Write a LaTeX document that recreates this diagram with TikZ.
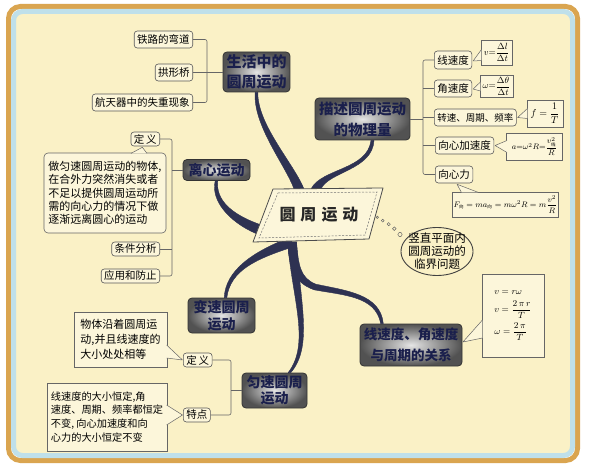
\documentclass[tikz,border=0pt]{standalone}
\usepackage{amsmath}
\usepackage{fontspec}
\newfontfamily\cjk{Noto Sans CJK SC}
\usetikzlibrary{shapes.geometric,calc}
\definecolor{bgc}{HTML}{FAF1C6}
\definecolor{boxc}{HTML}{FCF6DA}
\definecolor{frameo}{HTML}{DAA550}
\definecolor{frameb}{HTML}{BFE0EA}
\definecolor{brc}{HTML}{2E3252}
\definecolor{navy}{HTML}{1A1F4C}
\definecolor{elc}{HTML}{404040}
\newcommand\mycallout[3]{\fill[boxc] #1 -- #2 -- #3 -- cycle; \draw[tailline] #1 -- #2 -- #3;}
\newcommand\cjksub[1]{\hbox{\cjk\fontsize{4.5}{5}\selectfont #1}}
\newcommand\mf[2]{\cjk\bfseries\fontsize{#1}{#2}\selectfont}
\begin{document}
\begin{tikzpicture}[x=1pt,y=-1pt,
  smallbox/.style={draw=black!65, line width=0.6pt, fill=boxc, rounded corners=3pt, inner xsep=3pt, inner ysep=0pt, minimum height=17pt, font=\cjk\fontsize{10.5}{12}\selectfont},
  mainbox/.style={draw=black!80, line width=0.8pt, rounded corners=4pt, inner color=black!10, outer color=black!68, text=navy, align=center, inner sep=1pt},
  fbox/.style={draw=black!60, line width=0.5pt, fill=boxc, inner sep=1pt, font=\fontsize{9}{11}\selectfont},
  txtbox/.style={draw=black!60, line width=0.6pt, fill=boxc, align=left, inner sep=3pt, font=\cjk\fontsize{11}{13.3}\selectfont},
  tailline/.style={draw=black!60, line width=0.5pt, line join=round},
  bracket/.style={draw=black!60, line width=0.6pt, rounded corners=2pt},
  branch/.style={fill=brc, draw=brc, line width=0.4pt, line join=round}
]
\useasboundingbox (0,0) rectangle (589,473);
\fill[white] (0,0) rectangle (589,473);
% frame
\draw[frameo, line width=5pt, rounded corners=12pt] (8.5,6.5) rectangle (577.5,460.5);
\draw[frameb, line width=5pt, fill=bgc, rounded corners=9pt] (13.5,11.5) rectangle (572.5,455.5);

% main topic boxes
\node[mainbox, minimum width=67pt, minimum height=40pt, font={\mf{15}{19.5}}] (life) at (256.5,72) {生活中的\\圆周运动};
\node[mainbox, minimum width=95pt, minimum height=42pt, font={\mf{14.5}{21}}] (desc) at (362.5,119) {描述圆周运动\\的物理量};
\node[mainbox, minimum width=67pt, minimum height=21pt, font={\mf{14}{16}}] (centri) at (216.5,170) {离心运动};
\node[mainbox, minimum width=67pt, minimum height=35pt, font={\mf{14}{16.5}}] (var) at (221.5,315.5) {变速圆周\\运动};
\node[mainbox, minimum width=65pt, minimum height=35pt, font={\mf{14}{16.5}}] (uni) at (274.5,390.5) {匀速圆周\\运动};
\node[mainbox, minimum width=102pt, minimum height=42pt, font={\mf{13.5}{21}}] (rel) at (411,345) {线速度、角速度\\与周期的关系};

% small boxes
\node[smallbox, anchor=east] (rail) at (193,39.5) {铁路的弯道};
\node[smallbox, anchor=east] (bridge) at (193,72.5) {拱形桥};
\node[smallbox, anchor=east] (space) at (193,102.5) {航天器中的失重现象};
\node[smallbox, anchor=west, minimum height=18pt] (lin) at (434,60) {线速度};
\node[smallbox, anchor=west] (ang) at (434,88.5) {角速度};
\node[smallbox, anchor=west, font=\cjk\fontsize{9.5}{11}\selectfont] (rot) at (434,117.5) {转速、周期、频率};
\node[smallbox, anchor=west] (acc) at (435,145.5) {向心加速度};
\node[smallbox, anchor=west] (force) at (435,174.5) {向心力};
\node[smallbox, anchor=east, minimum height=14pt] (def1) at (160,139) {定\,义};
\node[smallbox, anchor=east, minimum height=14pt] (cond) at (160,249) {条件分析};
\node[smallbox, anchor=east, minimum height=14pt] (app) at (160,276) {应用和防止};
\node[smallbox, anchor=west, minimum height=14pt] (def2) at (183,360) {定\,义};
\node[smallbox, anchor=west, minimum height=14pt] (feat) at (183,415) {特点};

% formula boxes
\node[fbox, minimum width=31pt, minimum height=25pt, font=\fontsize{9.5}{11}\selectfont] (fv) at (496.5,52.5) {$v{=}\dfrac{\Delta l}{\Delta t}$};
\node[fbox, minimum width=33pt, minimum height=22pt, font=\fontsize{9.5}{11}\selectfont] (fw) at (496.5,86) {$\omega{=}\dfrac{\Delta\theta}{\Delta t}$};
\node[fbox, minimum width=36pt, minimum height=27pt, font=\fontsize{10}{12}\selectfont] (ff) at (545,113.5) {$f=\dfrac{1}{T}$};
\node[fbox, minimum width=56pt, minimum height=27pt, font=\fontsize{8.5}{10}\selectfont] (fa) at (534.5,146.5) {$a{=}\omega^2R{=}\dfrac{v^{2}_{\cjksub{线}}}{R}$};
\node[fbox, minimum width=103pt, minimum height=25pt, font=\fontsize{8.5}{10}\selectfont] (fF) at (505.5,204.5) {$F_{\cjksub{向}}=ma_{\cjksub{向}}=m\omega^2R=m\dfrac{v^2}{R}$};
\node[fbox, minimum width=62pt, minimum height=83pt, align=left, font=\fontsize{9.5}{11}\selectfont] (frel) at (513,315.5) {$v=r\omega$\\[5pt]$v=\dfrac{2\,\pi\, r}{T}$\\[3pt]$\omega=\dfrac{2\,\pi}{T}$};

% text boxes
\node[txtbox, rounded corners=4pt, minimum width=122pt, minimum height=80pt] (d1txt) at (105,193) {做匀速圆周运动的物体,\\在合外力突然消失或者\\不足以提供圆周运动所\\需的向心力的情况下做\\逐渐远离圆心的运动};
\node[txtbox, minimum width=93pt, minimum height=55pt, font=\cjk\fontsize{11}{15}\selectfont] (d2txt) at (120.5,339.5) {物体沿着圆周运\\动,并且线速度的\\大小处处相等};
\node[txtbox, minimum width=120pt, minimum height=68pt, font=\cjk\fontsize{10.2}{13.8}\selectfont] (ftxt) at (107,417) {线速度的大小恒定,角\\速度、周期、频率都恒定\\不变, 向心加速度和向\\心力的大小恒定不变};

% branch start points on the central shape
\coordinate (s1) at (299,189);
\coordinate (s2) at (316,189);
\coordinate (s3) at (257,229);
\coordinate (s4) at (292,242);

% tapered branches
\fill[branch] ($(s1)+(-5,0)$) .. controls (286.2,166.4) and (252.5,125) .. ($(life.south)+(-1.3,0)$) -- ($(life.south)+(1.3,0)$) .. controls (257.5,125) and (293.8,163.6) .. ($(s1)+(5,0)$) -- cycle;
\fill[branch] ($(s2)+(-5,0)$) .. controls (321.4,168.3) and (367.5,170) .. ($(desc.south)+(8.5,0)$) -- ($(desc.south)+(11.5,0)$) .. controls (372.5,170) and (328.6,171.7) .. ($(s2)+(5,0)$) -- cycle;
\fill[branch] ($(s3)+(2.6,-4.6)$) .. controls (231.5,214.3) and (215.5,200) .. ($(centri.south)+(1.3,0)$) -- ($(centri.south)+(-1.3,0)$) .. controls (210.5,200) and (228.5,221.7) .. ($(s3)+(-0.8,4.6)$) -- cycle;
\fill[branch] ($(s4)+(1.6,4.7)$) .. controls (256.3,258.8) and (230.5,270) .. ($(var.north)+(5.3,0)$) -- ($(var.north)+(2.7,0)$) .. controls (225.5,270) and (253.7,251.2) .. ($(s4)+(-1.6,-4.7)$) -- cycle;
\fill[branch] ($(s4)+(4.5,0)$) .. controls (299.5,300) and (313.6,346.3) .. ($(uni.north)+(16.3,0)$) -- ($(uni.north)+(13.7,0)$) .. controls (310.4,343.7) and (292.5,300) .. ($(s4)+(-4.5,0)$) -- cycle;
\fill[branch] ($(s4)+(4.5,0)$) .. controls (298.5,265) and (300,278) .. (315.9,284.2) .. controls (345.5,290.5) and (380.5,294) .. ($(rel.north)+(-27.7,0)$) -- ($(rel.north)+(-30.3,0)$) .. controls (375.5,296) and (344.5,295.5) .. (314.1,289.8) .. controls (292,282) and (289.5,265) .. ($(s4)+(-4.5,0)$) -- cycle;

% central shape
\fill[boxc] (273,189) -- (383,188) -- (369,239) -- (253,242) -- cycle;
\draw[black!70, line width=0.8pt, line join=round] (273,189) -- (383,188) -- (369,239) -- (253,242) -- cycle;
\draw[black!55, line width=0.5pt, dash pattern=on 2pt off 1.5pt] (278,193) -- (377,192) -- (365,235) -- (259,238) -- cycle;
\node[font=\cjk\bfseries\fontsize{16}{16}\selectfont, text=black!85] (core) at (319,215) {圆\hspace{5pt}周\hspace{5pt}运\hspace{5pt}动};

% chain of small circles to the ellipse
\foreach \cx/\cy/\r in {377.3/217.3/1.2, 382.7/220.7/1.4, 388.7/224.2/1.6, 394.3/228.7/1.8, 400/234.5/2.1}
  \draw[black!60, line width=0.5pt] (\cx,\cy) circle (\r);

% ellipse topic: outline as a polyline (straight segments), then the text
\draw[elc, line width=0.9pt, line join=round] plot[domain=0:360, samples=73, variable=\t] ({437+36*cos(\t)},{251.5+24*sin(\t)}) -- cycle;
\node[align=center, inner sep=0pt, font=\cjk\fontsize{11.5}{13}\selectfont] (crit) at (437,251.5) {竖直平面内\\圆周运动的\\临界问题};

% brackets
\coordinate (b1) at (207,72.5);
\draw[bracket] (rail.east) -| (b1) |- (space.east);
\draw[bracket] (bridge.east) -- (bridge.east -| life.west);
\coordinate (b2) at (423,119);
\draw[bracket] (lin.west) -| (b2) |- (force.west);
\draw[bracket] (ang.west) -- (ang.west -| b2);
\draw[bracket] (rot.west) -- (rot.west -| b2);
\draw[bracket] (acc.west) -- (acc.west -| b2);
\draw[bracket] (desc.east) -- (b2);
\coordinate (b3) at (172,170);
\draw[bracket] (def1.east) -| (b3) |- (app.east);
\draw[bracket] (cond.east) -- (cond.east -| b3);
\draw[bracket] (b3) -- (centri.west);
\coordinate (b4) at (231,390.5);
\draw[bracket] (def2.east) -| (b4) |- (feat.east);
\draw[bracket] (b4) -- (uni.west);

% callout tails
\mycallout{($(fv.west)+(0.7,-3)$)}{($(lin.east)+(1,1)$)}{($(fv.west)+(0.7,8)$)}
\mycallout{($(fw.west)+(0.7,-4)$)}{($(ang.east)+(1,0.5)$)}{($(fw.west)+(0.7,5)$)}
\mycallout{($(ff.west)+(0.7,-5)$)}{($(rot.east)+(1,0)$)}{($(ff.west)+(0.7,5)$)}
\mycallout{($(fa.west)+(0.7,-6)$)}{($(acc.east)+(1,0)$)}{($(fa.west)+(0.7,6)$)}
\mycallout{($(fF.north west)+(9,0.7)$)}{($(force.south)+(3,1)$)}{($(fF.north west)+(26,0.7)$)}
\mycallout{($(frel.west)+(0.7,4.5)$)}{($(rel.east)+(0.5,-3)$)}{($(frel.west)+(0.7,22.5)$)}
\mycallout{($(d1txt.north)+(26,0.7)$)}{($(def1.south)+(-3,1)$)}{($(d1txt.north)+(42,0.7)$)}
\mycallout{($(d2txt.east)+(-0.7,5.5)$)}{($(def2.west)+(-0.5,0)$)}{($(d2txt.east)+(-0.7,18.5)$)}
\mycallout{($(ftxt.east)+(-0.7,-12)$)}{($(feat.west)+(-0.5,0)$)}{($(ftxt.east)+(-0.7,8)$)}
\end{tikzpicture}
\end{document}
